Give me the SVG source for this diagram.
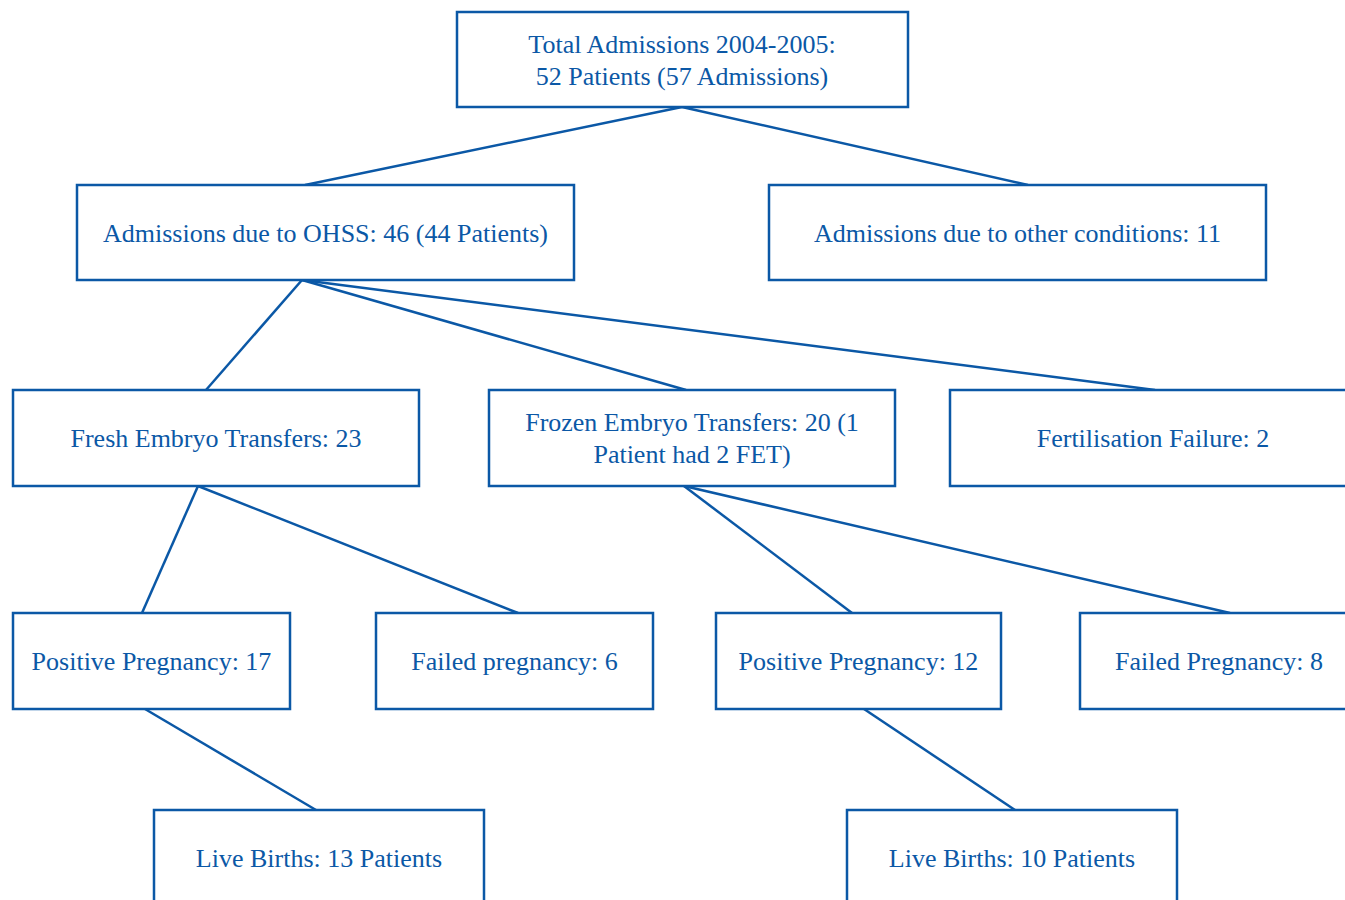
<svg xmlns="http://www.w3.org/2000/svg" width="1345" height="900" viewBox="0 0 1345 900">
<style>
.box{fill:#ffffff;stroke:#0b58a6;stroke-width:2.5}
.lbl{font-size:26px;fill:#0b58a6;text-anchor:middle}
.edge{stroke:#0b58a6;stroke-width:2.5;fill:none}
</style>
<rect width="1345" height="900" fill="#ffffff"/>
<g id="connectors">
<line class="edge" x1="682" y1="107" x2="305" y2="185"/>
<line class="edge" x1="682" y1="107" x2="1028" y2="185"/>
<line class="edge" x1="302" y1="280" x2="206" y2="390"/>
<line class="edge" x1="302" y1="280" x2="686" y2="390"/>
<line class="edge" x1="302" y1="280" x2="1155" y2="390"/>
<line class="edge" x1="198" y1="486" x2="142" y2="613"/>
<line class="edge" x1="198" y1="486" x2="518" y2="613"/>
<line class="edge" x1="684" y1="486" x2="852" y2="613"/>
<line class="edge" x1="684" y1="486" x2="1230" y2="613"/>
<line class="edge" x1="145" y1="709" x2="316" y2="810"/>
<line class="edge" x1="864" y1="709" x2="1015" y2="810"/>
</g>
<g font-family="Liberation Serif, Times New Roman, serif">
<g id="total">
<rect class="box" x="457" y="12" width="451" height="95"/>
<text class="lbl" x="682" y="53">Total Admissions 2004-2005:</text>
<text class="lbl" x="682" y="85">52 Patients (57 Admissions)</text>
</g>
<g id="ohss">
<rect class="box" x="77" y="185" width="497" height="95"/>
<text class="lbl" x="325.5" y="242">Admissions due to OHSS: 46 (44 Patients)</text>
</g>
<g id="other">
<rect class="box" x="769" y="185" width="497" height="95"/>
<text class="lbl" x="1017.5" y="242">Admissions due to other conditions: 11</text>
</g>
<g id="fresh">
<rect class="box" x="13" y="390" width="406" height="96"/>
<text class="lbl" x="216" y="447">Fresh Embryo Transfers: 23</text>
</g>
<g id="frozen">
<rect class="box" x="489" y="390" width="406" height="96"/>
<text class="lbl" x="692" y="431">Frozen Embryo Transfers: 20 (1</text>
<text class="lbl" x="692" y="463">Patient had 2 FET)</text>
</g>
<g id="fertfail">
<rect class="box" x="950" y="390" width="406" height="96"/>
<text class="lbl" x="1153" y="447">Fertilisation Failure: 2</text>
</g>
<g id="pos17">
<rect class="box" x="13" y="613" width="277" height="96"/>
<text class="lbl" x="151.5" y="670">Positive Pregnancy: 17</text>
</g>
<g id="fail6">
<rect class="box" x="376" y="613" width="277" height="96"/>
<text class="lbl" x="514.5" y="670">Failed pregnancy: 6</text>
</g>
<g id="pos12">
<rect class="box" x="716" y="613" width="285" height="96"/>
<text class="lbl" x="858.5" y="670">Positive Pregnancy: 12</text>
</g>
<g id="fail8">
<rect class="box" x="1080" y="613" width="278" height="96"/>
<text class="lbl" x="1219" y="670">Failed Pregnancy: 8</text>
</g>
<g id="live13">
<rect class="box" x="154" y="810" width="330" height="96"/>
<text class="lbl" x="319" y="867">Live Births: 13 Patients</text>
</g>
<g id="live10">
<rect class="box" x="847" y="810" width="330" height="96"/>
<text class="lbl" x="1012" y="867">Live Births: 10 Patients</text>
</g>
</g>
</svg>
